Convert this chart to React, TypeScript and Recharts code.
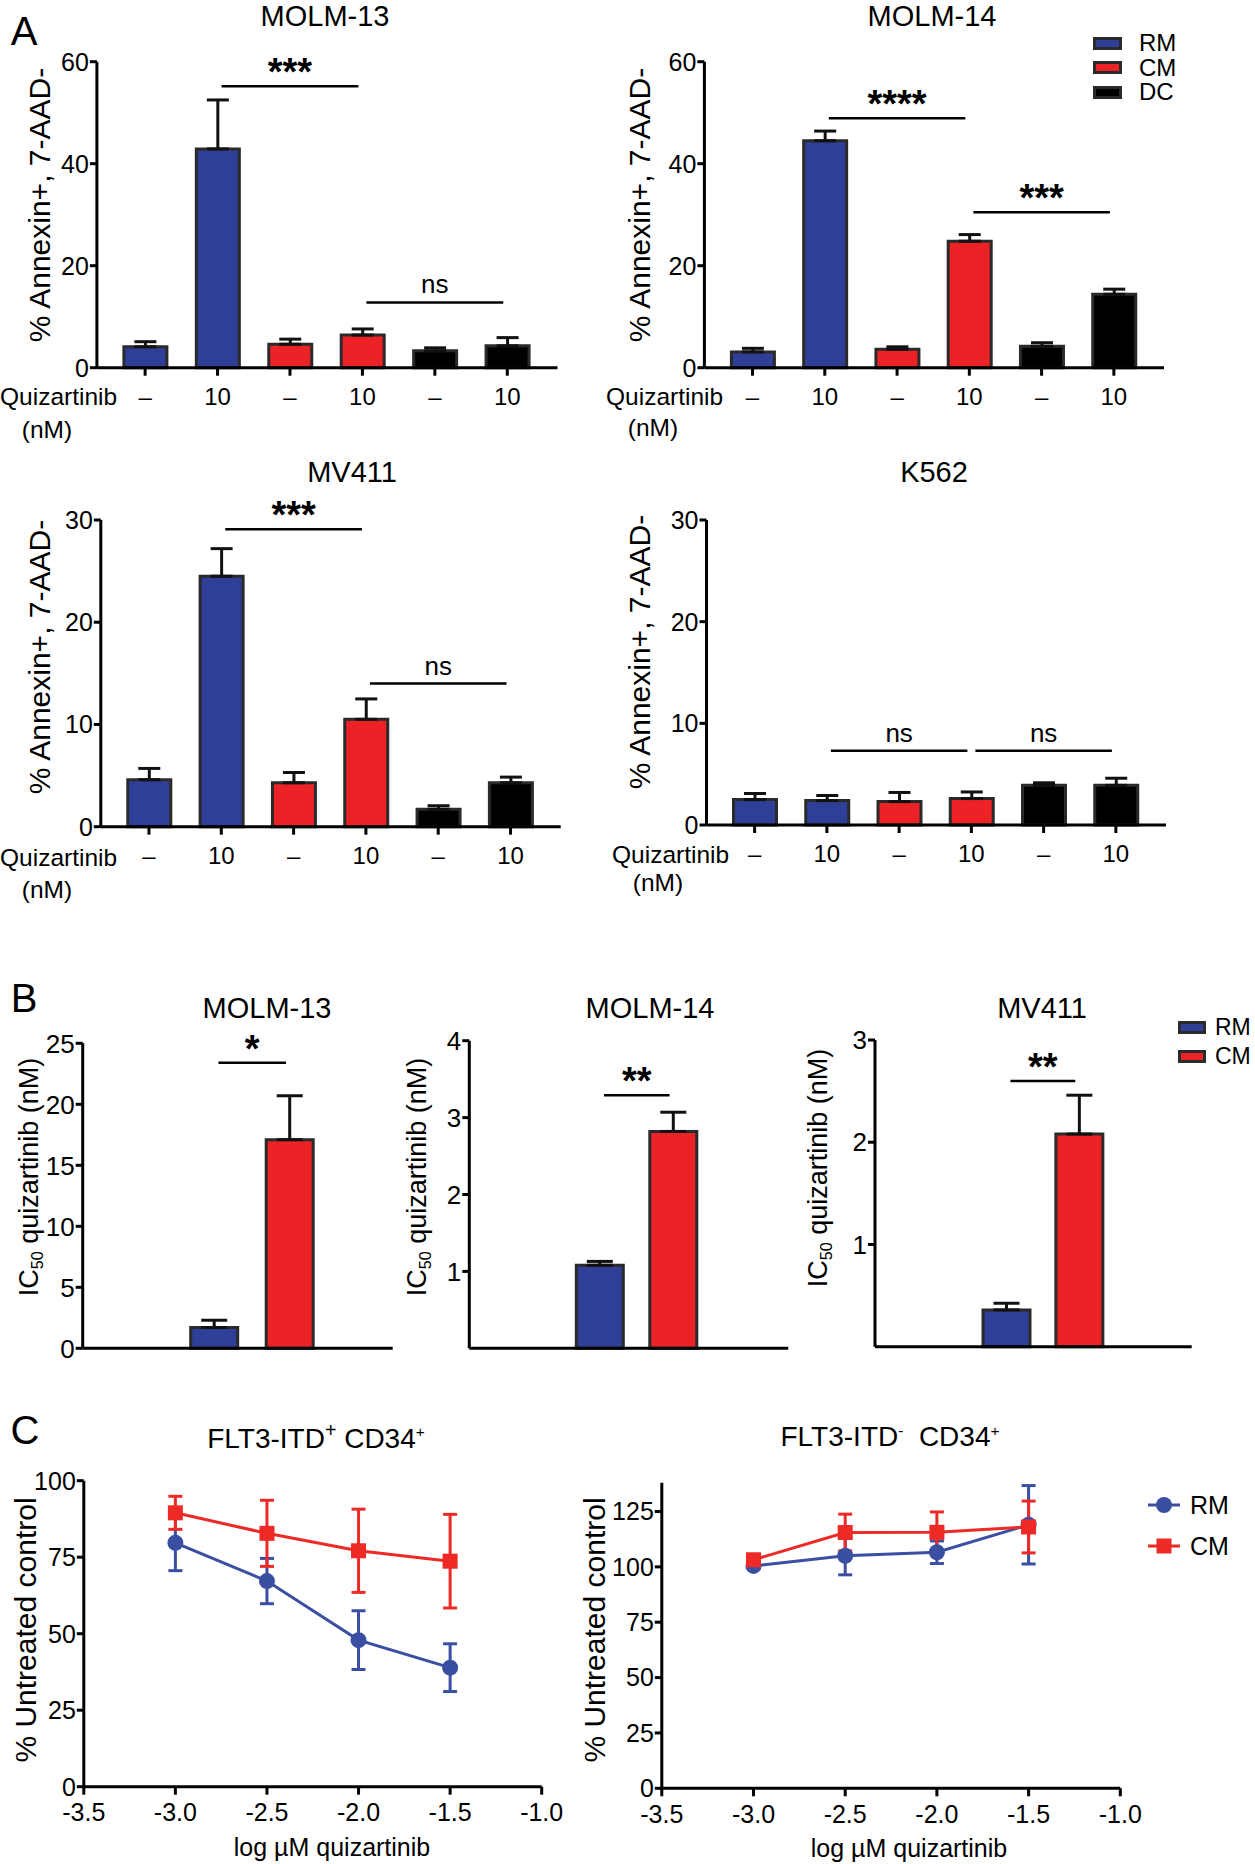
import {
  BarChart,
  Bar,
  LineChart,
  Line,
  XAxis,
  YAxis,
  Cell,
  ErrorBar,
  ReferenceLine,
} from "recharts";

const BLUE = "#2f3f97";
const RED = "#ec2227";
const BLACK = "#000000";
const EDGE = "#2a2a2a";
const LBLUE = "#3a4ea2";
const LRED = "#ee2a26";
const FONT = '"Liberation Sans", Arial, Helvetica, sans-serif';

// panel A: annexin+ 7-AAD- at 6 conditions
const A_IDS = ["RM-", "RM+", "CM-", "CM+", "DC-", "DC+"];
const A_DOSE = ["–", "10", "–", "10", "–", "10"];
const A_GROUP = ["RM", "RM", "CM", "CM", "DC", "DC"];

const MOLM13_MEAN = [4.1, 42.9, 4.6, 6.4, 3.3, 4.3];
const MOLM13_SEM = [1.0, 9.6, 1.0, 1.2, 0.6, 1.6];
const MOLM14_MEAN = [3.1, 44.5, 3.6, 24.8, 4.2, 14.4];
const MOLM14_SEM = [0.7, 1.9, 0.5, 1.3, 0.7, 1.0];
const MV411_MEAN = [4.6, 24.5, 4.3, 10.5, 1.7, 4.3];
const MV411_SEM = [1.1, 2.7, 1.0, 2.0, 0.35, 0.55];
const K562_MEAN = [2.5, 2.4, 2.3, 2.6, 3.9, 3.9];
const K562_SEM = [0.6, 0.5, 0.9, 0.65, 0.25, 0.7];

const MOLM13_SIG = [
  { from: "RM+", to: "CM+", y: 55.2, text: "***" },
  { from: "CM+", to: "DC+", y: 12.8, text: "ns" },
];
const MOLM14_SIG = [
  { from: "RM+", to: "CM+", y: 48.9, text: "****" },
  { from: "CM+", to: "DC+", y: 30.5, text: "***" },
];
const MV411_SIG = [
  { from: "RM+", to: "CM+", y: 29.1, text: "***" },
  { from: "CM+", to: "DC+", y: 14.0, text: "ns" },
];
const K562_SIG = [
  { from: "RM+", to: "CM+", y: 7.3, text: "ns" },
  { from: "CM+", to: "DC+", y: 7.3, text: "ns" },
];

// panel B: IC50
const B_IDS = ["RM", "CM"];
const MOLM13_IC50 = [1.7, 17.1];
const MOLM13_IC50_SEM = [0.6, 3.6];
const MOLM14_IC50 = [1.08, 2.82];
const MOLM14_IC50_SEM = [0.05, 0.25];
const MV411_IC50 = [0.36, 2.08];
const MV411_IC50_SEM = [0.065, 0.38];

const B13_SIG = [{ from: "RM", to: "CM", y: 23.4, text: "*" }];
const B14_SIG = [{ from: "RM", to: "CM", y: 3.29, text: "**" }];
const BMV_SIG = [{ from: "RM", to: "CM", y: 2.6, text: "**" }];

// panel C: dose response
const LOG_DOSE = [-3.0, -2.5, -2.0, -1.5];
const X_TICKS = [-3.5, -3.0, -2.5, -2.0, -1.5, -1.0];
const POS_RM = [79.7, 67.2, 47.9, 38.9];
const POS_RM_ERR = [9.1, 7.4, 9.6, 7.8];
const POS_CM = [89.5, 82.8, 77.1, 73.7];
const POS_CM_ERR = [5.4, 10.8, 13.6, 15.3];
const NEG_RM = [100.4, 105.0, 106.6, 119.0];
const NEG_RM_ERR = [1.2, 8.6, 5.1, 17.7];
const NEG_CM = [103.2, 115.5, 115.6, 118.0];
const NEG_CM_ERR = [1.0, 8.3, 9.2, 11.7];

const GROUP_FILL: Record<string, string> = { RM: BLUE, CM: RED, DC: BLACK };

type Sig = { from: string; to: string; y: number; text: string };
type Margin = { top: number; right: number; bottom: number; left: number };

const SigLine = (p: any) => (
  <line x1={p.x1 + 4} y1={p.y1} x2={p.x2 - 4} y2={p.y2} stroke="#000" strokeWidth={2.5} />
);

function sigLines(sig: Sig[]) {
  return sig.map((s, i) => {
    const stars = s.text !== "ns";
    return (
      <ReferenceLine
        key={i}
        segment={[
          { x: s.from, y: s.y },
          { x: s.to, y: s.y },
        ]}
        shape={SigLine}
        label={{
          value: s.text,
          position: "top",
          offset: stars ? 1 : 9,
          fontSize: stars ? 38 : 26,
          fontWeight: stars ? 700 : 400,
          fill: "#000",
        }}
      />
    );
  });
}

const axisLine = { stroke: "#000", strokeWidth: 3 };
const tickLine = { stroke: "#000", strokeWidth: 3 };

type AProps = {
  left: number;
  top: number;
  width: number;
  height: number;
  margin: Margin;
  yMax: number;
  yTicks: number[];
  mean: number[];
  sem: number[];
  sig: Sig[];
};

function AnnexinChart({ left, top, width, height, margin, yMax, yTicks, mean, sem, sig }: AProps) {
  const data = A_IDS.map((id, i) => ({
    id,
    group: A_GROUP[i],
    mean: mean[i],
    err: [0, sem[i]],
  }));
  return (
    <div style={{ position: "absolute", left, top }}>
      <BarChart width={width} height={height} data={data} margin={margin}>
        <XAxis
          dataKey="id"
          interval={0}
          padding={{ left: 12, right: 14 }}
          axisLine={axisLine}
          tickLine={tickLine}
          tickSize={8}
          tickMargin={12}
          height={40}
          tick={{ fontSize: 24, fill: "#000" }}
          tickFormatter={(id) => A_DOSE[A_IDS.indexOf(id)]}
        />
        <YAxis
          width={60}
          domain={[0, yMax]}
          ticks={yTicks}
          interval={0}
          axisLine={axisLine}
          tickLine={tickLine}
          tickSize={7}
          tickMargin={1}
          tick={{ fontSize: 25, fill: "#000" }}
        />
        <Bar dataKey="mean" barSize={43} stroke={EDGE} strokeWidth={3} isAnimationActive={false}>
          {data.map((d, i) => (
            <Cell key={i} fill={GROUP_FILL[d.group]} />
          ))}
          <ErrorBar dataKey="err" width={11} strokeWidth={3} stroke="#111" direction="y" />
        </Bar>
        {sigLines(sig)}
      </BarChart>
    </div>
  );
}

type BProps = {
  left: number;
  top: number;
  width: number;
  height: number;
  margin: Margin;
  yAxisWidth: number;
  pad: { left: number; right: number };
  yMax: number;
  yTicks: number[];
  mean: number[];
  sem: number[];
  sig: Sig[];
};

function Ic50Chart({ left, top, width, height, margin, yAxisWidth, pad, yMax, yTicks, mean, sem, sig }: BProps) {
  const data = B_IDS.map((id, i) => ({ id, mean: mean[i], err: [0, sem[i]] }));
  return (
    <div style={{ position: "absolute", left, top }}>
      <BarChart width={width} height={height} data={data} margin={margin}>
        <XAxis
          dataKey="id"
          padding={pad}
          axisLine={axisLine}
          tick={false}
          tickLine={false}
          height={2}
        />
        <YAxis
          width={yAxisWidth}
          domain={[0, yMax]}
          ticks={yTicks}
          interval={0}
          axisLine={axisLine}
          tickLine={tickLine}
          tickSize={7}
          tickMargin={1}
          tick={{ fontSize: 26, fill: "#000" }}
        />
        <Bar dataKey="mean" barSize={47} stroke={EDGE} strokeWidth={3} isAnimationActive={false}>
          {data.map((d, i) => (
            <Cell key={i} fill={GROUP_FILL[d.id]} />
          ))}
          <ErrorBar dataKey="err" width={13} strokeWidth={3} stroke="#111" direction="y" />
        </Bar>
        {sigLines(sig)}
      </BarChart>
    </div>
  );
}

const SquareDot = (color: string) => (p: any) => (
  <rect key={`sq-${p.index}`} x={p.cx - 7.5} y={p.cy - 7.5} width={15} height={15} fill={color} />
);

type CProps = {
  left: number;
  top: number;
  width: number;
  height: number;
  margin: Margin;
  yMax: number;
  yTicks: number[];
  rm: number[];
  rmErr: number[];
  cm: number[];
  cmErr: number[];
};

function DoseChart({ left, top, width, height, margin, yMax, yTicks, rm, rmErr, cm, cmErr }: CProps) {
  const data = LOG_DOSE.map((x, i) => ({
    x,
    rm: rm[i],
    rmErr: rmErr[i],
    cm: cm[i],
    cmErr: cmErr[i],
  }));
  return (
    <div style={{ position: "absolute", left, top }}>
      <LineChart width={width} height={height} data={data} margin={margin}>
        <XAxis
          type="number"
          dataKey="x"
          domain={[-3.5, -1]}
          ticks={X_TICKS}
          interval={0}
          axisLine={axisLine}
          tickLine={tickLine}
          tickSize={8}
          tickMargin={9}
          height={40}
          tick={{ fontSize: 25, fill: "#000" }}
          tickFormatter={(v) => v.toFixed(1)}
        />
        <YAxis
          width={60}
          domain={[0, yMax]}
          ticks={yTicks}
          interval={0}
          allowDataOverflow
          axisLine={axisLine}
          tickLine={tickLine}
          tickSize={7}
          tickMargin={1}
          tick={{ fontSize: 25, fill: "#000" }}
        />
        <Line
          dataKey="rm"
          stroke={LBLUE}
          strokeWidth={3}
          dot={{ r: 8, fill: LBLUE, stroke: LBLUE, strokeWidth: 0 }}
          isAnimationActive={false}
        >
          <ErrorBar dataKey="rmErr" width={7} strokeWidth={3} stroke={LBLUE} direction="y" />
        </Line>
        <Line
          dataKey="cm"
          stroke={LRED}
          strokeWidth={3}
          dot={SquareDot(LRED)}
          isAnimationActive={false}
        >
          <ErrorBar dataKey="cmErr" width={7} strokeWidth={3} stroke={LRED} direction="y" />
        </Line>
      </LineChart>
    </div>
  );
}

function Txt({ x, y, size, children, weight, anchor = "center" }: any) {
  return (
    <div
      style={{
        position: "absolute",
        left: x,
        top: y,
        fontSize: size,
        fontWeight: weight,
        lineHeight: 1,
        whiteSpace: "nowrap",
        transform: anchor === "center" ? "translate(-50%, -50%)" : "translate(0, -50%)",
      }}
    >
      {children}
    </div>
  );
}

function VLabel({ x, y, size, children }: any) {
  return (
    <div
      style={{
        position: "absolute",
        left: x,
        top: y,
        fontSize: size,
        lineHeight: 1,
        whiteSpace: "nowrap",
        transform: "translate(-50%, -50%) rotate(-90deg)",
      }}
    >
      {children}
    </div>
  );
}

function Swatch({ x, y, color, label, w = 29, h = 13, gap = 17, size = 24 }: any) {
  return (
    <>
      <div
        style={{
          position: "absolute",
          left: x,
          top: y - h / 2,
          width: w,
          height: h,
          background: color,
          boxSizing: "border-box",
          border: `3px solid ${EDGE}`,
        }}
      />
      <Txt x={x + w + gap} y={y} size={size} anchor="left">
        {label}
      </Txt>
    </>
  );
}

function LineKey({ x, y, color, label, square }: any) {
  return (
    <>
      <svg style={{ position: "absolute", left: x, top: y - 10 }} width={32} height={20}>
        <line x1={0} y1={10} x2={32} y2={10} stroke={color} strokeWidth={3} />
        {square ? (
          <rect x={8.5} y={2.5} width={15} height={15} fill={color} />
        ) : (
          <circle cx={16} cy={10} r={8} fill={color} />
        )}
      </svg>
      <Txt x={x + 42} y={y} size={25} anchor="left">
        {label}
      </Txt>
    </>
  );
}

const ANNEXIN = "% Annexin+, 7-AAD-";
const IC50 = (
  <span>
    IC<sub style={{ fontSize: "0.6em", verticalAlign: "-0.3em" }}>50</sub> quizartinib (nM)
  </span>
);

export default function App() {
  return (
    <div
      style={{
        position: "relative",
        width: 1255,
        height: 1864,
        background: "#fff",
        color: "#000",
        fontFamily: FONT,
        overflow: "hidden",
      }}
    >
      <style>{`body{margin:0}`}</style>

      {/* ---- A ---- */}
      <Txt x={24} y={31} size={40}>A</Txt>
      <Txt x={325} y={16} size={29}>MOLM-13</Txt>
      <Txt x={932} y={16} size={29}>MOLM-14</Txt>
      <Txt x={352} y={472} size={29}>MV411</Txt>
      <Txt x={934} y={472} size={29}>K562</Txt>

      <VLabel x={40} y={205} size={30}>{ANNEXIN}</VLabel>
      <VLabel x={640} y={205} size={30}>{ANNEXIN}</VLabel>
      <VLabel x={40} y={657} size={30}>{ANNEXIN}</VLabel>
      <VLabel x={640} y={652} size={30}>{ANNEXIN}</VLabel>

      <AnnexinChart
        left={0}
        top={0}
        width={600}
        height={450}
        margin={{ top: 61.7, right: 42.5, bottom: 42.3, left: 36.9 }}
        yMax={60}
        yTicks={[0, 20, 40, 60]}
        mean={MOLM13_MEAN}
        sem={MOLM13_SEM}
        sig={MOLM13_SIG}
      />
      <AnnexinChart
        left={600}
        top={0}
        width={655}
        height={450}
        margin={{ top: 61.7, right: 91, bottom: 42.3, left: 44.4 }}
        yMax={60}
        yTicks={[0, 20, 40, 60]}
        mean={MOLM14_MEAN}
        sem={MOLM14_SEM}
        sig={MOLM14_SIG}
      />
      <AnnexinChart
        left={0}
        top={450}
        width={600}
        height={450}
        margin={{ top: 70, right: 39.3, bottom: 33.3, left: 40.8 }}
        yMax={30}
        yTicks={[0, 10, 20, 30]}
        mean={MV411_MEAN}
        sem={MV411_SEM}
        sig={MV411_SIG}
      />
      <AnnexinChart
        left={600}
        top={450}
        width={655}
        height={450}
        margin={{ top: 70, right: 89, bottom: 35, left: 46.5 }}
        yMax={30}
        yTicks={[0, 10, 20, 30]}
        mean={K562_MEAN}
        sem={K562_SEM}
        sig={K562_SIG}
      />

      <Txt x={0} y={397} size={24.5} anchor="left">Quizartinib</Txt>
      <Txt x={47} y={430} size={24.5}>(nM)</Txt>
      <Txt x={606} y={397} size={24.5} anchor="left">Quizartinib</Txt>
      <Txt x={653} y={428} size={24.5}>(nM)</Txt>
      <Txt x={0} y={858} size={24.5} anchor="left">Quizartinib</Txt>
      <Txt x={47} y={890} size={24.5}>(nM)</Txt>
      <Txt x={612} y={855} size={24.5} anchor="left">Quizartinib</Txt>
      <Txt x={658} y={883} size={24.5}>(nM)</Txt>

      <Swatch x={1093} y={43} color={BLUE} label="RM" />
      <Swatch x={1093} y={67.5} color={RED} label="CM" />
      <Swatch x={1093} y={92} color={BLACK} label="DC" />

      {/* ---- B ---- */}
      <Txt x={24} y={998} size={40}>B</Txt>
      <Txt x={267} y={1008} size={29}>MOLM-13</Txt>
      <Txt x={650} y={1008} size={29}>MOLM-14</Txt>
      <Txt x={1042} y={1008} size={29}>MV411</Txt>

      <VLabel x={31} y={1177} size={27}>{IC50}</VLabel>
      <VLabel x={419} y={1177} size={27}>{IC50}</VLabel>
      <VLabel x={820} y={1168} size={27}>{IC50}</VLabel>

      <Ic50Chart
        left={0}
        top={960}
        width={400}
        height={420}
        margin={{ top: 83.3, right: 7.3, bottom: 29.7, left: 22.7 }}
        yAxisWidth={60}
        pad={{ left: 94, right: 65 }}
        yMax={25}
        yTicks={[0, 5, 10, 15, 20, 25]}
        mean={MOLM13_IC50}
        sem={MOLM13_IC50_SEM}
        sig={B13_SIG}
      />
      <Ic50Chart
        left={400}
        top={960}
        width={400}
        height={420}
        margin={{ top: 80.7, right: 11.7, bottom: 29.7, left: 19.3 }}
        yAxisWidth={50}
        pad={{ left: 94, right: 78 }}
        yMax={4}
        yTicks={[1, 2, 3, 4]}
        mean={MOLM14_IC50}
        sem={MOLM14_IC50_SEM}
        sig={B14_SIG}
      />
      <Ic50Chart
        left={780}
        top={960}
        width={475}
        height={420}
        margin={{ top: 80, right: 63.3, bottom: 31.3, left: 45 }}
        yAxisWidth={50}
        pad={{ left: 95, right: 76 }}
        yMax={3}
        yTicks={[1, 2, 3]}
        mean={MV411_IC50}
        sem={MV411_IC50_SEM}
        sig={BMV_SIG}
      />

      <Swatch x={1178} y={1027} color={BLUE} label="RM" w={28} gap={9} size={23} />
      <Swatch x={1178} y={1056} color={RED} label="CM" w={28} gap={9} size={23} />

      {/* ---- C ---- */}
      <Txt x={25} y={1430} size={40}>C</Txt>
      <Txt x={316} y={1437} size={28}>
        FLT3-ITD<sup style={{ fontSize: "0.7em" }}>+</sup> CD34<sup style={{ fontSize: "0.55em" }}>+</sup>
      </Txt>
      <Txt x={890} y={1437} size={28}>
        FLT3-ITD<sup style={{ fontSize: "0.55em" }}>-</sup>&nbsp; CD34<sup style={{ fontSize: "0.55em" }}>+</sup>
      </Txt>

      <VLabel x={26} y={1630} size={30}>% Untreated control</VLabel>
      <VLabel x={595} y={1630} size={30}>% Untreated control</VLabel>

      <DoseChart
        left={0}
        top={1390}
        width={620}
        height={474}
        margin={{ top: 90.7, right: 78.3, bottom: 37.3, left: 23.8 }}
        yMax={100}
        yTicks={[0, 25, 50, 75, 100]}
        rm={POS_RM}
        rmErr={POS_RM_ERR}
        cm={POS_CM}
        cmErr={POS_CM_ERR}
      />
      <DoseChart
        left={580}
        top={1390}
        width={675}
        height={474}
        margin={{ top: 92.7, right: 134.7, bottom: 35.7, left: 21.8 }}
        yMax={138}
        yTicks={[0, 25, 50, 75, 100, 125]}
        rm={NEG_RM}
        rmErr={NEG_RM_ERR}
        cm={NEG_CM}
        cmErr={NEG_CM_ERR}
      />

      <Txt x={332} y={1847} size={25}>log µM quizartinib</Txt>
      <Txt x={909} y={1848} size={25}>log µM quizartinib</Txt>

      <LineKey x={1148} y={1505} color={LBLUE} label="RM" />
      <LineKey x={1148} y={1546} color={LRED} label="CM" square />
    </div>
  );
}
